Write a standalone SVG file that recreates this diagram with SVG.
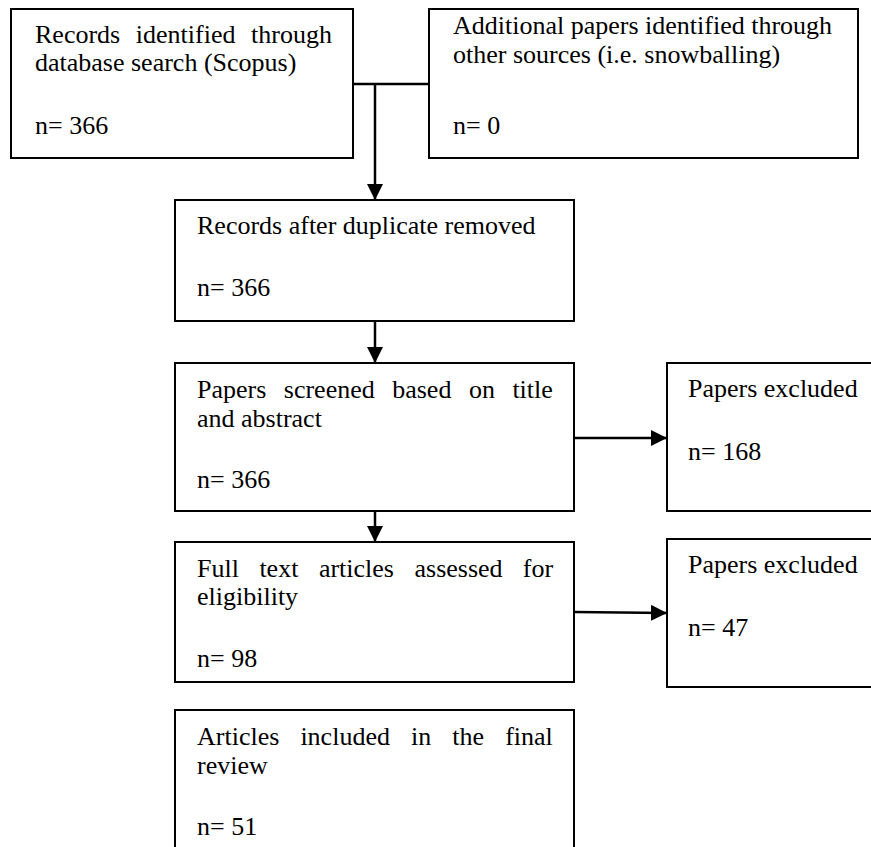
<svg xmlns="http://www.w3.org/2000/svg" width="871" height="847" viewBox="0 0 871 847">
  <style>
    .box { fill: #ffffff; stroke: #000000; stroke-width: 2; }
    .t { font-family: "Liberation Serif", "Times New Roman", serif; font-size: 26px; fill: #000000; }
    .conn { fill: none; stroke: #000000; stroke-width: 2.5; }
  </style>
  <defs>
    <marker id="arrow" markerUnits="userSpaceOnUse" markerWidth="16" markerHeight="16" refX="16" refY="8" orient="auto">
      <path d="M0,0 L16,8 L0,16 Z" fill="#000000"/>
    </marker>
  </defs>
  <rect width="871" height="847" fill="#ffffff"/>

  <g id="connectors">
    <line class="conn" x1="353" y1="84" x2="429" y2="84"/>
    <line class="conn" x1="375" y1="84" x2="375" y2="200" marker-end="url(#arrow)"/>
    <line class="conn" x1="375" y1="321" x2="375" y2="363" marker-end="url(#arrow)"/>
    <line class="conn" x1="375" y1="511" x2="375" y2="542" marker-end="url(#arrow)"/>
    <line class="conn" x1="574" y1="438" x2="667" y2="438" marker-end="url(#arrow)"/>
    <line class="conn" x1="574" y1="612" x2="667" y2="613" marker-end="url(#arrow)"/>
  </g>

  <g id="node-records-identified">
    <rect class="box" x="11" y="9" width="342" height="149"/>
    <text class="t" y="43"><tspan x="35">Records</tspan><tspan x="135.8">identified</tspan><tspan x="251.1">through</tspan></text>
    <text class="t" x="35" y="71">database search (Scopus)</text>
    <text class="t" x="35" y="134">n= 366</text>
  </g>

  <g id="node-additional-papers">
    <rect class="box" x="429" y="9" width="429" height="149"/>
    <text class="t" x="453" y="34">Additional papers identified through</text>
    <text class="t" x="453" y="63">other sources (i.e. snowballing)</text>
    <text class="t" x="453" y="134">n= 0</text>
  </g>

  <g id="node-after-duplicates">
    <rect class="box" x="175" y="200" width="399" height="121"/>
    <text class="t" x="197" y="234">Records after duplicate removed</text>
    <text class="t" x="197" y="296">n= 366</text>
  </g>

  <g id="node-screened">
    <rect class="box" x="175" y="363" width="399" height="148"/>
    <text class="t" y="398"><tspan x="197">Papers</tspan><tspan x="283.8">screened</tspan><tspan x="392.2">based</tspan><tspan x="468.9">on</tspan><tspan x="512.4">title</tspan></text>
    <text class="t" x="197" y="427">and abstract</text>
    <text class="t" x="197" y="488">n= 366</text>
  </g>

  <g id="node-excluded-1">
    <rect class="box" x="667" y="363" width="220" height="148"/>
    <text class="t" x="688" y="397">Papers excluded</text>
    <text class="t" x="688" y="460">n= 168</text>
  </g>

  <g id="node-full-text">
    <rect class="box" x="175" y="542" width="399" height="140"/>
    <text class="t" y="577"><tspan x="197">Full</tspan><tspan x="259.4">text</tspan><tspan x="318.9">articles</tspan><tspan x="414.5">assessed</tspan><tspan x="522.8">for</tspan></text>
    <text class="t" x="197" y="605">eligibility</text>
    <text class="t" x="197" y="667">n= 98</text>
  </g>

  <g id="node-excluded-2">
    <rect class="box" x="667" y="539" width="220" height="148"/>
    <text class="t" x="688" y="573">Papers excluded</text>
    <text class="t" x="688" y="636">n= 47</text>
  </g>

  <g id="node-included">
    <rect class="box" x="175" y="710" width="399" height="150"/>
    <text class="t" y="745"><tspan x="197">Articles</tspan><tspan x="300.4">included</tspan><tspan x="411">in</tspan><tspan x="452.3">the</tspan><tspan x="505.2">final</tspan></text>
    <text class="t" x="197" y="774">review</text>
    <text class="t" x="197" y="835">n= 51</text>
  </g>
</svg>
